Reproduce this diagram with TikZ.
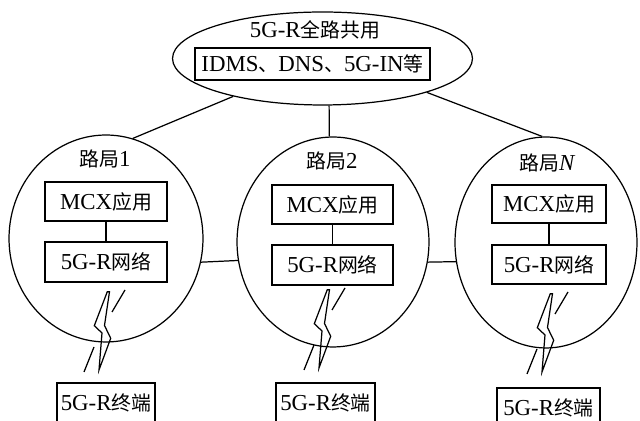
\documentclass[tikz,border=0pt]{standalone}
\usepackage{fontspec}
\setmainfont{Liberation Serif}
\newfontfamily\cjk[Scale=0.87]{Noto Sans CJK SC}
\newcommand{\zh}[1]{{\cjk #1}}
\usetikzlibrary{shapes.geometric}
\tikzset{
  txt/.style={font=\fontsize{13}{15}\selectfont, inner sep=0pt},
  box/.style={txt, draw, rectangle},
  ring/.style={draw, ellipse, inner sep=0pt},
  link/.style={draw},
  bolt/.pic={
    \draw (4.3,-38.3) -- (-8.7,-4.3) -- (-1,3) -- (-4,40) -- (7.7,8.3) -- (1.5,-4.5) -- (6.5,-38.3) -- cycle;
    \draw (22,-40) -- (9,-18);
    \draw (-9,17) -- (-19,42);
  }
}
\begin{document}
\begin{tikzpicture}[x=0.02cm, y=-0.02cm, line width=0.7pt]
\useasboundingbox (0,0) rectangle (640,421);
\clip (0,0) rectangle (640,421);
% top ellipse
\node[ring, minimum width=6.0cm, minimum height=1.86cm] (top) at (322.5,58.5) {};
\node[txt] (title) at (315,30) {5G-R\zh{全路共用}};
\node[box, minimum width=4.7cm, minimum height=0.64cm] (common) at (312.5,64) {IDMS\zh{、}DNS\zh{、}5G-IN\zh{等}};
% bureau circles
\node[ring, minimum width=3.88cm, minimum height=4.14cm] (c1) at (106,238.5) {};
\node[ring, minimum width=3.84cm, minimum height=4.2cm] (c2) at (333,242) {};
\node[ring, minimum width=3.64cm, minimum height=4.22cm] (cN) at (546,242.5) {};
\node[txt] (l1) at (105,159) {\zh{路局}1};
\node[txt] (l2) at (332,161) {\zh{路局}2};
\node[txt] (lN) at (547.5,162.5) {\zh{路局}\textit{N}};
% inner boxes
\node[box, minimum width=2.44cm, minimum height=0.78cm] (m1) at (106,201.5) {MCX\zh{应用}};
\node[box, minimum width=2.44cm, minimum height=0.8cm] (n1) at (106,262) {5G-R\zh{网络}};
\node[box, minimum width=2.42cm, minimum height=0.78cm] (m2) at (332.5,204.5) {MCX\zh{应用}};
\node[box, minimum width=2.42cm, minimum height=0.8cm] (n2) at (332.5,265) {5G-R\zh{网络}};
\node[box, minimum width=2.28cm, minimum height=0.76cm] (mN) at (549,204) {MCX\zh{应用}};
\node[box, minimum width=2.28cm, minimum height=0.78cm] (nN) at (549,264.5) {5G-R\zh{网络}};
% terminals
\node[box, minimum width=1.96cm, minimum height=0.8cm] (t1) at (106,403) {5G-R\zh{终端}};
\node[box, minimum width=1.98cm, minimum height=0.8cm] (t2) at (325.5,403) {5G-R\zh{终端}};
\node[box, minimum width=2.06cm, minimum height=0.8cm] (tN) at (548.5,408) {5G-R\zh{终端}};
% connectors
\draw (m1) -- (n1);
\draw (m2) -- (n2);
\draw (mN) -- (nN);
\draw (c1.75.5) -- (top.203.7);
\draw (c2.92) -- (top.278);
\draw (cN.92.7) -- (top.342.6);
\draw (c1.346.6) -- (c2.191.4);
\draw (c2.348) -- (cN.192.3);
% wireless links
\coordinate (w1) at (103,330);
\coordinate (w2) at (323,328);
\coordinate (wN) at (546,332);
\pic at (w1) {bolt};
\pic at (w2) {bolt};
\pic at (wN) {bolt};
\end{tikzpicture}
\end{document}
